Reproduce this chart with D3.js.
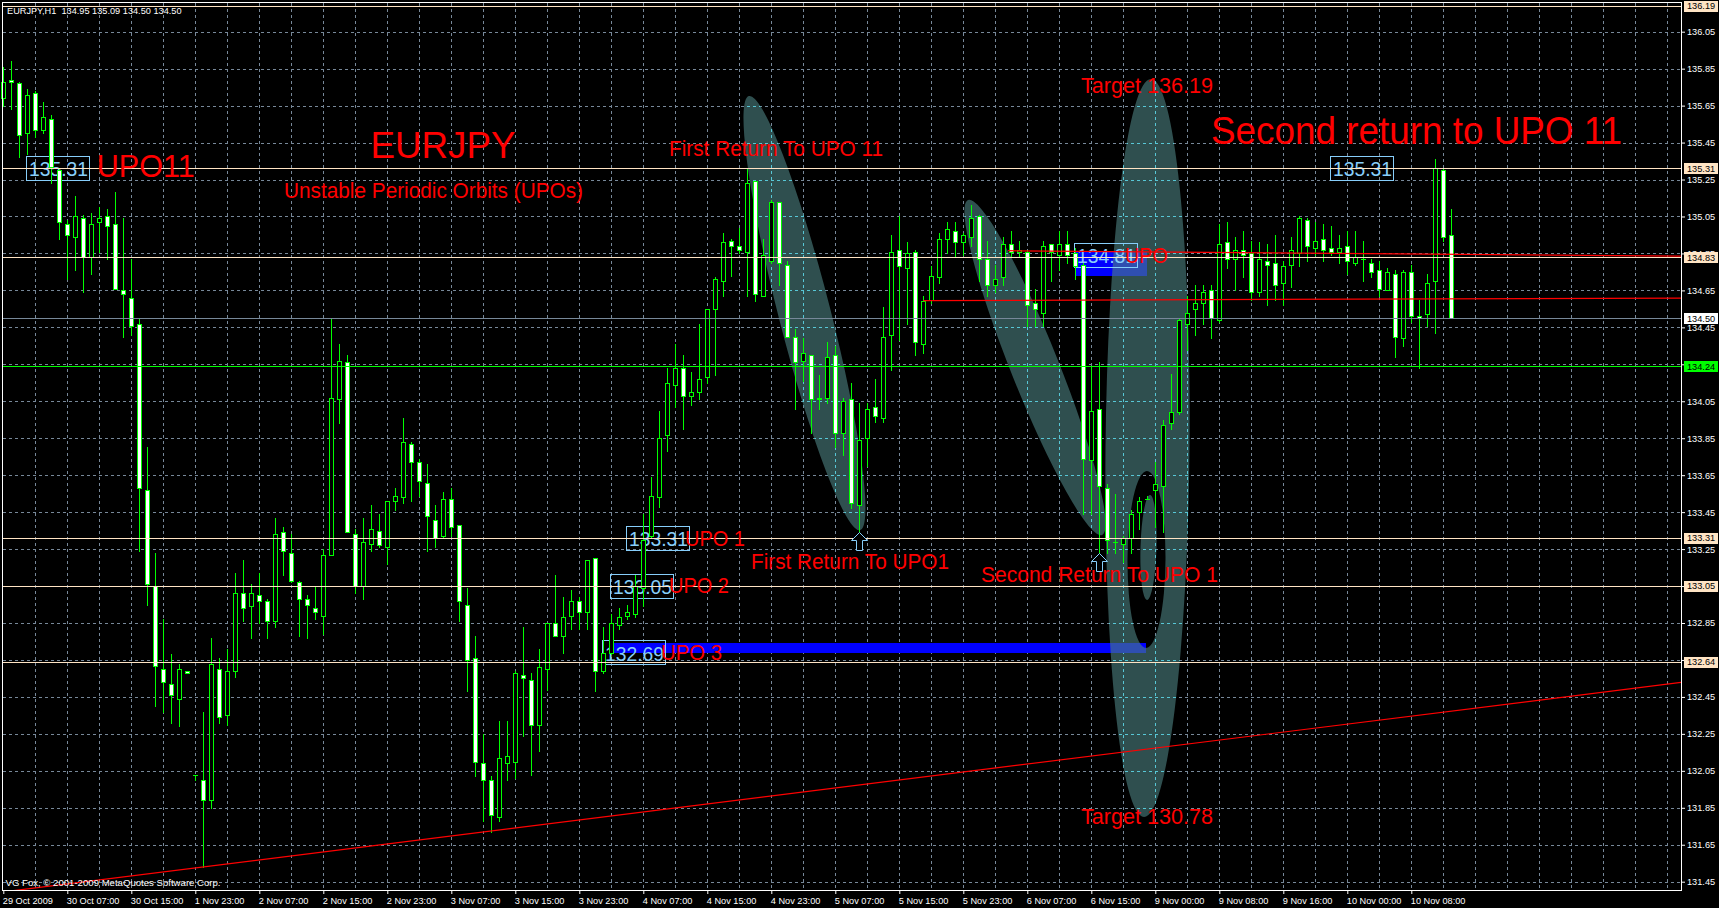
<!DOCTYPE html>
<html><head><meta charset="utf-8">
<script src="https://cdn.jsdelivr.net/npm/d3@7"></script>
<style>
html,body{margin:0;padding:0;background:#000;overflow:hidden}
svg{display:block}
text{font-family:"Liberation Sans",Arial,sans-serif}
</style></head><body>
<svg id="chart" width="1719" height="908"></svg>
<script>
// ---------------- DATA ----------------
const symbolTitle = "EURJPY,H1  134.95 135.09 134.50 134.50";
const copyright = "VG Fox, © 2001-2009 MetaQuotes Software Corp.";

const opens = [
135.69,135.79,135.77,135.50,135.72,135.52,135.58,135.30,135.01,134.94,
135.04,134.83,135.02,135.05,135.01,134.65,134.61,134.47,133.57,133.05,
132.60,132.52,132.44,132.59,132.03,132.00,131.89,132.60,132.35,132.59,
133.01,132.94,133.00,132.97,132.86,133.34,133.23,133.07,132.98,132.93,
132.89,133.22,134.06,134.26,133.33,133.05,133.28,133.35,133.26,133.51,
133.53,133.82,133.72,133.61,133.41,133.32,133.52,133.38,132.95,132.66,
132.09,132.00,131.80,132.09,132.10,132.57,132.54,132.30,132.60,132.85,
132.78,132.89,132.97,132.91,133.20,132.59,132.69,132.84,132.89,132.90,
133.04,133.32,133.53,133.87,134.14,134.23,134.08,134.10,134.18,134.55,
134.70,134.92,134.89,134.86,135.24,134.62,134.81,135.13,134.79,134.40,
134.27,134.30,134.07,134.07,134.30,133.88,134.06,133.49,133.85,134.02,
133.96,134.41,134.87,134.77,134.86,134.36,134.60,134.72,134.93,134.97,
134.91,134.94,135.05,134.82,134.68,134.72,134.90,134.86,134.86,134.58,
134.53,134.90,134.84,134.90,134.85,134.79,133.73,134.01,133.58,133.29,
133.28,133.31,133.45,133.52,133.57,133.59,133.93,133.99,134.47,134.55,
134.58,134.65,134.49,134.91,134.82,134.87,134.85,134.64,134.81,134.80,
134.69,134.79,134.85,135.03,134.88,134.93,134.88,134.86,134.89,134.80,
134.82,134.80,134.76,134.65,134.74,134.39,134.75,134.51,134.52,134.70,
135.30,134.95];
const highs = [
135.86,135.89,135.78,135.74,135.73,135.67,135.60,135.31,135.03,135.16,
135.06,135.07,135.10,135.09,135.18,135.04,134.82,134.50,133.80,133.23,
132.87,132.68,132.63,132.59,132.03,132.37,132.77,132.66,132.71,133.12,
133.19,133.06,133.12,132.98,133.42,133.37,133.33,133.08,133.00,133.05,
133.25,134.50,134.36,134.30,133.36,133.42,133.49,133.44,133.51,133.58,
133.96,133.83,133.74,133.71,133.49,133.56,133.58,133.38,133.04,132.78,
132.25,132.02,132.32,132.32,132.59,132.83,132.58,132.71,132.85,133.11,
132.99,133.03,132.99,133.19,133.20,132.83,132.90,132.93,132.95,133.11,
133.44,133.64,134.00,134.23,134.36,134.30,134.21,134.47,134.55,134.72,
134.96,134.93,134.99,135.31,135.24,134.93,135.14,135.13,134.81,134.44,
134.39,134.30,134.19,134.37,134.35,134.07,134.15,134.04,134.04,134.17,
134.56,134.95,135.05,134.91,134.87,134.62,134.78,134.96,135.02,135.02,
134.96,135.11,135.06,134.92,134.79,134.94,134.97,134.92,134.87,134.66,
134.92,134.90,134.97,134.97,134.88,134.80,134.24,134.26,133.60,133.55,
133.32,133.46,133.53,133.54,133.72,133.95,134.20,134.50,134.62,134.68,
134.68,134.68,135.01,135.02,134.94,134.97,134.92,134.91,134.90,134.95,
134.81,134.94,135.05,135.04,135.02,135.01,135.00,134.95,134.97,134.97,
134.92,134.82,134.81,134.77,134.76,134.76,134.79,134.60,134.74,135.36,
135.31,135.09];
const lows = [
135.65,135.63,135.37,135.39,135.48,135.50,135.23,134.93,134.71,134.76,
134.64,134.74,134.86,134.82,134.66,134.40,134.41,133.24,132.95,132.40,
132.37,132.31,132.29,132.58,132.00,131.53,131.85,132.31,132.30,132.56,
132.86,132.77,132.85,132.77,132.83,133.11,133.07,132.78,132.77,132.87,
132.79,133.22,133.93,133.34,133.01,132.98,133.24,133.26,133.17,133.46,
133.50,133.51,133.54,133.24,133.26,133.31,133.32,132.86,132.48,132.02,
131.78,131.72,131.78,132.00,132.01,132.24,132.03,132.16,132.49,132.78,
132.69,132.82,132.82,132.82,132.48,132.58,132.68,132.82,132.87,132.88,
132.94,133.31,133.48,133.78,134.02,133.90,134.03,134.06,134.15,134.19,
134.62,134.73,134.85,134.62,134.59,134.62,134.80,134.68,134.40,134.01,
134.16,133.88,134.01,134.04,133.80,133.76,133.47,133.34,133.70,133.94,
133.94,134.22,134.38,134.47,134.30,134.31,134.58,134.69,134.85,134.83,
134.84,134.89,134.70,134.62,134.64,134.68,134.83,134.83,134.46,134.46,
134.46,134.70,134.76,134.80,134.71,133.44,133.44,133.19,133.23,133.23,
133.18,133.23,133.36,133.52,133.37,133.34,133.90,133.98,134.33,134.41,
134.47,134.39,134.48,134.77,134.65,134.72,134.60,134.62,134.57,134.60,
134.57,134.67,134.78,134.81,134.84,134.81,134.84,134.80,134.74,134.79,
134.70,134.72,134.62,134.65,134.29,134.35,134.48,134.23,134.46,134.42,
134.92,134.50];
const closes = [
135.78,135.78,135.49,135.71,135.52,135.59,135.32,135.02,134.95,135.05,
134.83,135.01,135.04,135.00,134.66,134.63,134.46,133.58,133.06,132.62,
132.53,132.46,132.60,132.58,132.03,131.89,132.63,132.34,132.59,133.01,
132.93,133.01,132.97,132.86,133.33,133.24,133.08,132.98,132.95,132.91,
133.22,134.07,134.27,133.34,133.05,133.29,133.36,133.27,133.51,133.54,
133.83,133.72,133.62,133.43,133.31,133.52,133.37,132.97,132.65,132.10,
132.00,131.81,132.12,132.13,132.58,132.55,132.30,132.61,132.85,132.78,
132.88,132.97,132.91,133.19,132.59,132.69,132.85,132.88,132.91,133.05,
133.30,133.54,133.85,134.15,134.23,134.08,134.10,134.17,134.55,134.71,
134.91,134.89,134.87,135.23,134.63,134.84,135.13,134.80,134.40,134.26,
134.31,134.06,134.06,134.29,133.88,134.05,133.50,133.84,134.01,133.97,
134.40,134.86,134.78,134.85,134.37,134.59,134.73,134.93,134.98,134.91,
134.95,135.04,134.82,134.68,134.71,134.90,134.86,134.87,134.57,134.55,
134.89,134.86,134.90,134.84,134.78,133.74,134.00,133.59,133.30,133.29,
133.31,133.44,133.51,133.52,133.60,133.92,133.99,134.49,134.53,134.58,
134.64,134.50,134.90,134.82,134.87,134.84,134.64,134.82,134.79,134.68,
134.78,134.87,135.04,134.89,134.92,134.87,134.86,134.88,134.81,134.83,
134.82,134.75,134.66,134.75,134.40,134.75,134.51,134.50,134.69,135.31,
134.94,134.50];

const yTickValues = [131.45,131.65,131.85,132.05,132.25,132.45,132.65,132.85,133.05,133.25,133.45,133.65,
  133.85,134.05,134.25,134.45,134.65,134.85,135.05,135.25,135.45,135.65,135.85,136.05];
const xTickBars = [0,8,16,24,32,40,48,56,64,72,80,88,96,104,112,120,128,136,144,152,160,168,176];
const xTickLabels = ["29 Oct 2009","30 Oct 07:00","30 Oct 15:00","1 Nov 23:00","2 Nov 07:00","2 Nov 15:00",
  "2 Nov 23:00","3 Nov 07:00","3 Nov 15:00","3 Nov 23:00","4 Nov 07:00","4 Nov 15:00","4 Nov 23:00",
  "5 Nov 07:00","5 Nov 15:00","5 Nov 23:00","6 Nov 07:00","6 Nov 15:00","9 Nov 00:00","9 Nov 08:00",
  "9 Nov 16:00","10 Nov 00:00","10 Nov 08:00"];

const upoLevels = [136.19, 135.31, 134.83, 133.31, 133.05, 132.64];
const bidPrice = 134.50;
const greenLevel = 134.24;

// trend lines: anchor points (bar index, price)
const supportLine = [{bar:25, price:131.53}, {bar:62, price:131.73}];
const redRays = [
  [{bar:115, price:134.592}, {bar:209.7, price:134.606}],
  [{bar:125.6, price:134.862}, {bar:209.7, price:134.833}]
];
// blue zones (bar range, price range)
const blueZones = [
  {b0:76.2, b1:142.85, p0:132.69, p1:132.742},
  {b0:134.1, b1:142.97, p0:134.727, p1:134.857}
];
// ellipses: diameter endpoints (bar, price) + half width (px)
const ellipses = [
  {b1:93.2,  p1:135.702, b2:107.09, p2:133.353, r:26},
  {b1:143.46,p1:135.794, b2:142.59, p2:131.80,  r:42},
  {b1:120.59,p1:135.139, b2:137.34, p2:133.326, r:24},
  {b1:142.96,p1:133.673, b2:142.84, p2:132.715, r:19},
  {b1:143.34,p1:133.543, b2:142.96, p2:132.975, r:8}
];
// boxed price labels
const priceBoxes = [
  {text:"135.31", bar:2.84,   price:135.31},
  {text:"135.31", bar:165.84, price:135.31},
  {text:"133.31", bar:77.84,  price:133.31},
  {text:"133.05", bar:75.84,  price:133.05},
  {text:"132.69", bar:74.84,  price:132.69},
  {text:"134.81", bar:133.84, price:134.84}
];
// red annotations
const notes = [
  {text:"EURJPY", bar:45.9, price:135.366, size:37, width:145},
  {text:"UPO11", bar:11.675, price:135.264, size:31.6, width:98},
  {text:"Unstable Periodic Orbits (UPOs)", bar:35.09, price:135.149, size:22, width:299},
  {text:"First Return To UPO 11", bar:83.21, price:135.377, size:22, width:null},
  {text:"Target 136.19", bar:134.71, price:135.716, size:22, width:132},
  {text:"Second return to UPO 11", bar:150.96, price:135.44, size:38.5, width:411},
  {text:"UPO 1", bar:85.21, price:133.267, size:22, width:60},
  {text:"UPO 2", bar:83.21, price:133.011, size:22, width:60},
  {text:"UPO 3", bar:82.21, price:132.651, size:22, width:61},
  {text:"First Return To UPO1", bar:93.46, price:133.14, size:22, width:198},
  {text:"Second Return To UPO 1", bar:122.21, price:133.07, size:22, width:237},
  {text:"Target 130.78", bar:134.71, price:131.76, size:22, width:132},
  {text:"UPO", bar:140.21, price:134.798, size:22, width:43}
];
const arrows = [{bar:107, price:133.345}, {bar:137, price:133.23}];

// ---------------- DRAW ----------------
const W = 1719, H = 908, L = 2, T = 2, R = 1681, B = 891;
const svg = d3.select('#chart');
const x = d3.scaleLinear().domain([0, 1]).range([3.3, 11.3]);
const y = d3.scaleLinear().domain([131.45, 136.05]).range([881.7, 31.7]);
const px = v => Math.round(v) + 0.5;
const FONT = '"Liberation Sans", Arial, sans-serif';

svg.append('rect').attr('width', W).attr('height', H).attr('fill', '#000');
const defs = svg.append('defs');
defs.append('clipPath').attr('id', 'plotClip').append('rect')
  .attr('x', L + 1).attr('y', T + 1).attr('width', R - L - 1).attr('height', B - T - 1);

const gridBars = d3.range(4, 210, 4);
function drawGrid(g, color) {
  g.selectAll('line.h').data(yTickValues).join('line').attr('class', 'h')
    .attr('x1', L + 1).attr('x2', R).attr('y1', d => px(y(d))).attr('y2', d => px(y(d)))
    .attr('stroke', color).attr('stroke-dasharray', '3,3').attr('shape-rendering', 'crispEdges');
  g.selectAll('line.v').data(gridBars).join('line').attr('class', 'v')
    .attr('x1', d => px(x(d))).attr('x2', d => px(x(d))).attr('y1', T + 1).attr('y2', B)
    .attr('stroke', color).attr('stroke-dasharray', '3,3').attr('shape-rendering', 'crispEdges');
}
drawGrid(svg.append('g'), '#778899');

// ellipses (xor-like overlap with evenodd)
function ellPath(e) {
  const x1 = x(e.b1), y1 = y(e.p1), x2 = x(e.b2), y2 = y(e.p2);
  const cx = (x1 + x2) / 2, cy = (y1 + y2) / 2;
  const a = Math.hypot(x2 - x1, y2 - y1) / 2;
  const th = Math.atan2(y2 - y1, x2 - x1);
  const deg = th * 180 / Math.PI, ux = Math.cos(th), uy = Math.sin(th);
  return `M${cx + a * ux},${cy + a * uy} A${a},${e.r} ${deg} 1 0 ${cx - a * ux},${cy - a * uy} A${a},${e.r} ${deg} 1 0 ${cx + a * ux},${cy + a * uy} Z`;
}
const ellD = ellipses.map(ellPath).join(' ');
svg.append('path').attr('d', ellD).attr('fill', '#2f4f4f').attr('fill-rule', 'evenodd');
defs.append('clipPath').attr('id', 'ellClip').append('path').attr('d', ellD).attr('clip-rule', 'evenodd');
drawGrid(svg.append('g').attr('clip-path', 'url(#ellClip)'), 'rgb(88,199,214)');

// blue zones
function drawBlue(g, color) {
  g.selectAll('rect').data(blueZones).join('rect')
    .attr('x', d => Math.round(x(d.b0))).attr('width', d => Math.round(x(d.b1)) - Math.round(x(d.b0)))
    .attr('y', d => Math.round(y(d.p1))).attr('height', d => Math.round(y(d.p0)) - Math.round(y(d.p1)))
    .attr('fill', color);
}
drawBlue(svg.append('g'), '#0000ff');
drawBlue(svg.append('g').attr('clip-path', 'url(#ellClip)'), 'rgb(47,79,176)');

// boxed labels
const boxG = svg.append('g');
priceBoxes.forEach(b => {
  const bx = Math.round(x(b.bar)) + 0.5, yc = y(b.price);
  const by = Math.round(yc - 12.5) + 0.5;
  boxG.append('rect').attr('x', bx).attr('y', by).attr('width', 63).attr('height', 24)
    .attr('fill', 'none').attr('stroke', '#87cefa').attr('shape-rendering', 'crispEdges');
  boxG.append('text').attr('x', bx + 32).attr('y', yc + 8).attr('text-anchor', 'middle')
    .attr('font-size', 21).attr('fill', '#87cefa')
    .attr('textLength', 59).attr('lengthAdjust', 'spacingAndGlyphs').text(b.text);
});

// candles
const cg = svg.append('g').attr('shape-rendering', 'crispEdges');
opens.forEach((o, i) => {
  const h = highs[i], l = lows[i], c = closes[i];
  const cx = Math.round(x(i));
  cg.append('line').attr('x1', cx + 0.5).attr('x2', cx + 0.5)
    .attr('y1', Math.round(y(h))).attr('y2', Math.round(y(l)) + 1).attr('stroke', '#00ff00');
  const yo = Math.round(y(o)), yc = Math.round(y(c));
  const top = Math.min(yo, yc), bot = Math.max(yo, yc);
  if (top === bot) {
    cg.append('line').attr('x1', cx - 2).attr('x2', cx + 3).attr('y1', top + 0.5).attr('y2', top + 0.5)
      .attr('stroke', '#00ff00');
  } else {
    cg.append('rect').attr('x', cx - 1.5).attr('y', top + 0.5).attr('width', 4).attr('height', bot - top)
      .attr('fill', c < o ? '#ffffff' : '#000000').attr('stroke', '#00ff00');
  }
});

// horizontal levels & trend lines
const lg = svg.append('g').attr('clip-path', 'url(#plotClip)').attr('shape-rendering', 'crispEdges');
upoLevels.forEach(p => {
  lg.append('line').attr('x1', L + 1).attr('x2', R).attr('y1', px(y(p))).attr('y2', px(y(p))).attr('stroke', '#ffe4c4');
});
lg.append('line').attr('x1', L + 1).attr('x2', R).attr('y1', px(y(bidPrice))).attr('y2', px(y(bidPrice))).attr('stroke', '#778899');
lg.append('line').attr('x1', L + 1).attr('x2', R).attr('y1', px(y(greenLevel))).attr('y2', px(y(greenLevel))).attr('stroke', '#00ff00');
const tg = svg.append('g').attr('clip-path', 'url(#plotClip)');
{
  const [a, b] = supportLine;
  const slope = (b.price - a.price) / (b.bar - a.bar);
  const b0 = -5, b1 = 215;
  tg.append('line').attr('x1', x(b0)).attr('y1', y(a.price + slope * (b0 - a.bar)))
    .attr('x2', x(b1)).attr('y2', y(a.price + slope * (b1 - a.bar))).attr('stroke', '#ff0000').attr('stroke-width', 1.2);
}
redRays.forEach(([a, b]) => {
  tg.append('line').attr('x1', x(a.bar)).attr('y1', y(a.price) - 0.5).attr('x2', x(b.bar)).attr('y2', y(b.price) - 0.5)
    .attr('stroke', '#ff0000').attr('stroke-width', 1.2);
});

// red annotations
const ng = svg.append('g');
notes.forEach(n => {
  const t = ng.append('text').attr('x', x(n.bar)).attr('y', y(n.price)).attr('font-size', n.size)
    .attr('fill', '#ff0000').text(n.text);
  const w = t.node().getComputedTextLength();
  t.attr('textLength', n.width || w * 0.945).attr('lengthAdjust', 'spacingAndGlyphs');
});

// arrows
arrows.forEach(a => {
  const ax = Math.round(x(a.bar)) + 0.5, ay = Math.round(y(a.price)) + 0.5;
  svg.append('path')
    .attr('d', `M${ax},${ay} L${ax + 8},${ay + 8} L${ax + 3},${ay + 8} L${ax + 3},${ay + 18} L${ax - 3},${ay + 18} L${ax - 3},${ay + 8} L${ax - 8},${ay + 8} Z`)
    .attr('fill', '#000').attr('stroke', '#87cefa');
});

// border
svg.append('rect').attr('x', L + 0.5).attr('y', T + 0.5).attr('width', R - L).attr('height', B - T - 1)
  .attr('fill', 'none').attr('stroke', '#ffffff').attr('shape-rendering', 'crispEdges');

// right axis
const gy = svg.append('g').attr('transform', `translate(${R},0)`)
  .call(d3.axisRight(y).tickValues(yTickValues).tickSize(4).tickPadding(2).tickFormat(d3.format('.2f')));
gy.attr('font-size', 9.2).attr('font-family', FONT);
gy.select('.domain').remove();
gy.selectAll('line').attr('stroke', '#ffffff');
gy.selectAll('text').attr('fill', '#ffffff');

// price tags on axis
const tags = upoLevels.map(p => ({p, bg: '#ffe4c4'}))
  .concat([{p: bidPrice, bg: '#ffffff'}, {p: greenLevel, bg: '#00ff00'}]);
const tagG = svg.append('g');
tags.forEach(t => {
  const yc = y(t.p);
  tagG.append('rect').attr('x', R + 3).attr('y', Math.round(yc) - 5).attr('width', 34).attr('height', 11).attr('fill', t.bg);
  tagG.append('text').attr('x', R + 6).attr('y', yc + 3.4).attr('font-size', 9.2).attr('fill', '#000').text(d3.format('.2f')(t.p));
});

// bottom axis
const gx = svg.append('g').attr('transform', `translate(0,${B})`)
  .call(d3.axisBottom(x).tickValues(xTickBars).tickSize(3).tickPadding(3).tickFormat((d, i) => xTickLabels[i]));
gx.attr('font-size', 9.2).attr('font-family', FONT);
gx.select('.domain').remove();
gx.selectAll('line').attr('stroke', '#ffffff');
gx.selectAll('text').attr('fill', '#ffffff').attr('text-anchor', 'start').attr('x', -1);

// title + copyright
svg.append('text').attr('x', 7).attr('y', 14).attr('font-size', 9.2).attr('fill', '#fff')
  .style('white-space', 'pre').text(symbolTitle);
svg.append('text').attr('x', 5.5).attr('y', 886).attr('font-size', 9.6).attr('fill', '#fff').text(copyright);
</script>
</body></html>
